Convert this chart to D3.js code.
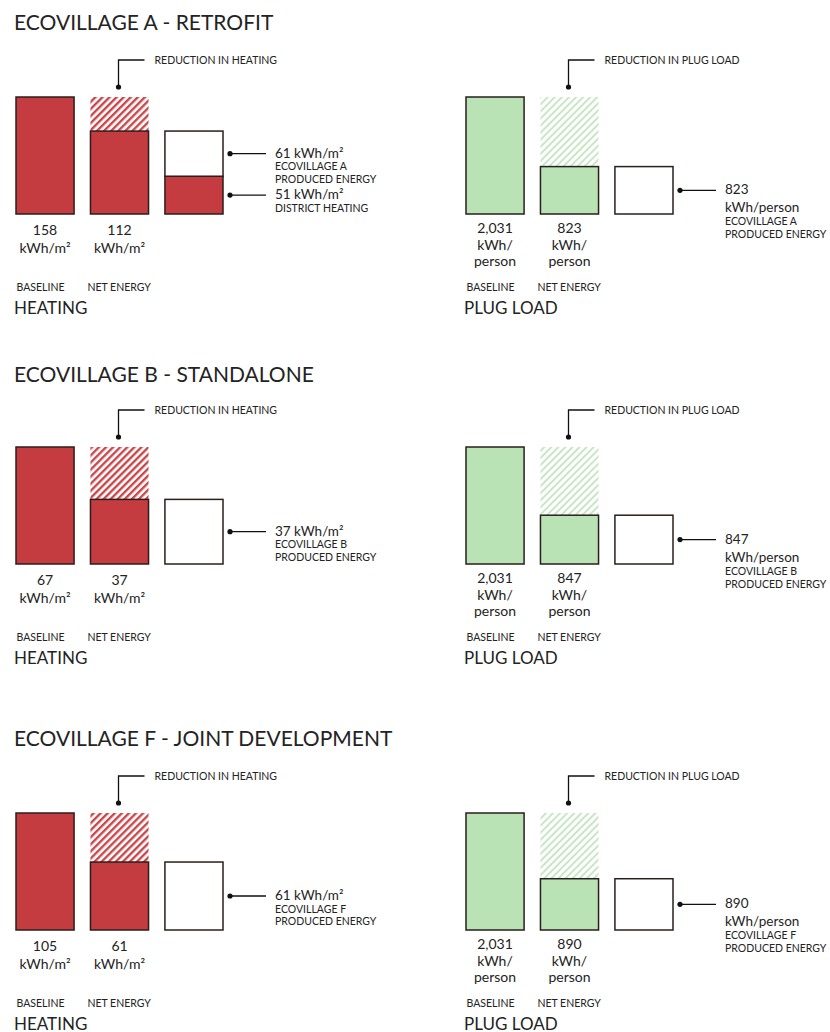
<!DOCTYPE html>
<html>
<head>
<meta charset="utf-8">
<script src="https://cdn.jsdelivr.net/npm/d3@7"></script>
<style>
  body { margin: 0; background: #fff; }
  text { font-family: Lato, "Open Sans", sans-serif; fill: #232323; }
</style>
</head>
<body>
<div class="canvas"></div>
<script>
// data
const villageTitles = ['ECOVILLAGE A - RETROFIT', 'ECOVILLAGE B - STANDALONE', 'ECOVILLAGE F - JOINT DEVELOPMENT'];
const villageLetters = ['A', 'B', 'F'];
const heatingBaseline = [158, 67, 105];
const heatingNet = [112, 37, 61];
const heatingProduced = [61, 37, 61];
const heatingDistrict = [51, 0, 0];
const plugBaseline = [2031, 2031, 2031];
const plugNet = [823, 847, 890];
const plugProduced = [823, 847, 890];
const barCategories = ['BASELINE', 'NET ENERGY', 'PRODUCED'];

const width = 830, height = 1032;
const titleY = [30, 382, 746];
const groundY = [214, 564, 930];
const barMax = 117;
const smallFont = '10.5px';

const svg = d3.select('.canvas')
  .append('svg')
  .attr('width', width)
  .attr('height', height);

const defs = svg.append('defs');

function hatch(id, color, stripe) {
  const p = defs.append('pattern')
    .attr('id', id)
    .attr('patternUnits', 'userSpaceOnUse')
    .attr('width', 5)
    .attr('height', 5)
    .attr('patternTransform', 'rotate(45)');
  p.append('rect').attr('width', 5).attr('height', 5).attr('fill', '#fff');
  p.append('rect').attr('width', stripe).attr('height', 5).attr('fill', color);
}
hatch('hatch-heating', '#c8474b', 2.4);
hatch('hatch-plug', '#c9e7c5', 2);

const styles = {
  heating: { fill: '#c43c40', hatch: 'url(#hatch-heating)', x0: 16, label: 'HEATING', reduction: 'REDUCTION IN HEATING' },
  plug: { fill: '#b9e2b5', hatch: 'url(#hatch-plug)', x0: 466, label: 'PLUG LOAD', reduction: 'REDUCTION IN PLUG LOAD' }
};

const stroke = '#2a1e1e';

function drawPanel(kind, i) {
  const st = styles[kind];
  const ground = groundY[i];
  const base = kind === 'heating' ? heatingBaseline[i] : plugBaseline[i];
  const net = kind === 'heating' ? heatingNet[i] : plugNet[i];
  const produced = kind === 'heating' ? heatingProduced[i] : plugProduced[i];
  const district = kind === 'heating' ? heatingDistrict[i] : 0;

  const x = d3.scaleBand()
    .domain(barCategories)
    .range([st.x0, st.x0 + 207])
    .paddingInner(0.22)
    .paddingOuter(0);
  const y = d3.scaleLinear().domain([0, base]).range([ground, ground - barMax]);
  const bw = x.bandwidth();

  const g = svg.append('g').attr('class', kind);

  // baseline bar
  g.append('rect')
    .attr('x', x('BASELINE')).attr('y', y(base))
    .attr('width', bw).attr('height', y(0) - y(base))
    .attr('fill', st.fill).attr('stroke', stroke).attr('stroke-width', 1.5);

  // reduction (hatched) + net bar
  g.append('rect')
    .attr('x', x('NET ENERGY')).attr('y', y(base))
    .attr('width', bw).attr('height', y(net) - y(base))
    .attr('fill', st.hatch);
  g.append('rect')
    .attr('x', x('NET ENERGY')).attr('y', y(net))
    .attr('width', bw).attr('height', y(0) - y(net))
    .attr('fill', st.fill).attr('stroke', stroke).attr('stroke-width', 1.5);

  // supply bar: district heating (red) under produced energy (white)
  const segs = [];
  if (district > 0) segs.push({ lo: 0, hi: district, fill: st.fill, lines: [`${district} kWh/m²`, 'DISTRICT HEATING'] });
  segs.push({
    lo: district, hi: district + produced, fill: '#fff',
    lines: kind === 'heating'
      ? [`${produced} kWh/m²`, `ECOVILLAGE ${villageLetters[i]}`, 'PRODUCED ENERGY']
      : [`${produced}`, 'kWh/person', `ECOVILLAGE ${villageLetters[i]}`, 'PRODUCED ENERGY']
  });

  const sx = x('PRODUCED');
  segs.forEach(s => {
    g.append('rect')
      .attr('x', sx).attr('y', y(s.hi))
      .attr('width', bw).attr('height', y(s.lo) - y(s.hi))
      .attr('fill', s.fill).attr('stroke', stroke).attr('stroke-width', 1.5);

    const cy = (y(s.lo) + y(s.hi)) / 2;
    const dx = sx + bw + 7;
    g.append('circle').attr('cx', dx).attr('cy', cy).attr('r', 2.6).attr('fill', '#111');
    g.append('line')
      .attr('x1', dx).attr('x2', dx + 36).attr('y1', cy).attr('y2', cy)
      .attr('stroke', '#111').attr('stroke-width', 1.3);

    const t = g.append('text').attr('x', dx + 45).attr('y', cy + 4);
    if (kind === 'heating') {
      s.lines.forEach((line, j) => {
        t.append('tspan').attr('x', dx + 45)
          .attr('dy', j === 0 ? 0 : 12.5)
          .style('font-size', j === 0 ? '13.5px' : smallFont)
          .text(line);
      });
    } else {
      s.lines.forEach((line, j) => {
        t.append('tspan').attr('x', dx + 45)
          .attr('dy', j === 0 ? 0 : (j === 1 ? 18 : 13))
          .style('font-size', j < 2 ? '13.5px' : smallFont)
          .text(line);
      });
    }
  });

  // reduction leader
  const lx = x('NET ENERGY') + bw / 2 - 1;
  const dotY = y(base) - 10;
  const topY = dotY - 27;
  g.append('path')
    .attr('d', `M${lx},${dotY}V${topY}H${lx + 26}`)
    .attr('fill', 'none').attr('stroke', '#111').attr('stroke-width', 1.3);
  g.append('circle').attr('cx', lx).attr('cy', dotY).attr('r', 2.6).attr('fill', '#111');
  g.append('text')
    .attr('x', lx + 36).attr('y', topY + 4)
    .style('font-size', smallFont)
    .text(st.reduction);

  // value labels under bars
  const fmt = d3.format(',');
  [['BASELINE', base], ['NET ENERGY', net]].forEach(([c, v]) => {
    const lines = kind === 'heating' ? [`${v}`, 'kWh/m²'] : [fmt(v), 'kWh/', 'person'];
    const t = g.append('text')
      .attr('x', x(c) + bw / 2)
      .attr('y', ground + (kind === 'heating' ? 21 : 19))
      .attr('text-anchor', 'middle')
      .style('font-size', '14px');
    lines.forEach((line, j) => {
      t.append('tspan').attr('x', x(c) + bw / 2)
        .attr('dy', j === 0 ? 0 : (kind === 'heating' ? 18 : 16.5))
        .text(line);
    });
  });

  g.append('text').attr('x', x('BASELINE') + 0.5).attr('y', ground + 77)
    .style('font-size', smallFont).text('BASELINE');
  g.append('text').attr('x', x('NET ENERGY') - 3).attr('y', ground + 77)
    .style('font-size', smallFont).text('NET ENERGY');

  g.append('text').attr('x', st.x0 - 2).attr('y', ground + 100)
    .style('font-size', '17px').text(st.label);
}

villageTitles.forEach((title, i) => {
  svg.append('text')
    .attr('x', 14).attr('y', titleY[i])
    .style('font-size', '21px')
    .text(title);
  drawPanel('heating', i);
  drawPanel('plug', i);
});
</script>
</body>
</html>
